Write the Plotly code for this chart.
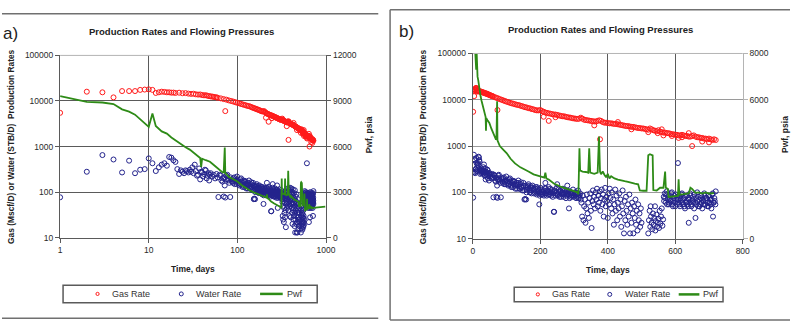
import plotly.graph_objects as go

# ---------------- data ----------------
gas_days = [1, 2, 3, 4, 5, 6, 7, 8, 9, 10, 11, 12, 13, 14, 15, 16, 17, 18, 19, 20,
            22, 24, 26, 28, 30, 32, 34, 36, 38, 40, 42, 44, 46, 48, 50, 52, 54, 56, 58, 60,
            65, 70, 73, 75, 80, 85, 90, 95, 100, 105, 110, 115, 120, 125, 130, 135, 140, 145, 150, 155,
            160, 165, 170, 175, 180, 185, 190, 195, 200, 205, 210, 215, 220, 225, 225, 230, 235, 240, 245, 245,
            250, 255, 260, 265, 270, 275, 280, 285, 290, 295, 300, 305, 310, 315, 320, 325, 330, 335, 340, 345,
            350, 355, 360, 360, 365, 370, 375, 377, 380, 385, 390, 395, 400, 405, 410, 415, 420, 425, 430, 435,
            440, 445, 450, 455, 460, 465, 470, 475, 480, 485, 490, 495, 500, 505, 510, 515, 520, 520, 525, 530,
            535, 540, 545, 548, 550, 555, 560, 565, 565, 570, 575, 580, 585, 590, 595, 600, 605, 610, 615, 620,
            625, 630, 635, 640, 645, 650, 650, 655, 660, 665, 670, 675, 680, 685, 690, 695, 700, 705, 710, 715,
            720, 430, 470, 560, 590, 610, 640, 680, 700, 210, 620]
gas_rates = [5500, 16000, 15500, 12000, 16500, 16500, 16500, 17500, 17800, 18000, 17500, 15000, 15500, 16000, 15800, 15500, 15500, 15200, 15300, 15000,
             15200, 14800, 14900, 14500, 14300, 14400, 14000, 13800, 13900, 13500, 13300, 13400, 13000, 12800, 12600, 12500, 12300, 12100, 12000, 11800,
             11400, 11000, 6000, 10700, 10300, 10000, 9700, 9400, 9100, 8900, 8600, 8400, 8200, 8000, 7800, 7700, 7500, 7300, 7100, 6900,
             6800, 6600, 6500, 6300, 6200, 6000, 5900, 5900, 6000, 5700, 5500, 5300, 5200, 3500, 5100, 5000, 4900, 4800, 4200, 4800,
             4700, 4600, 4500, 4400, 4400, 4300, 4200, 4150, 4100, 4000, 3950, 3900, 3850, 3900, 4100, 3900, 3700, 3650, 3600, 3550,
             3500, 3450, 2800, 3400, 3400, 3500, 3600, 1400, 3500, 3300, 3200, 3200, 3150, 3100, 3100, 3050, 3000, 3000, 2950, 2900,
             2850, 2800, 2750, 2700, 2700, 2650, 2600, 2600, 2550, 2500, 2450, 2450, 2400, 2400, 2350, 2300, 2250, 2000, 2400, 2300,
             2200, 2150, 2100, 1900, 2200, 2050, 2000, 1700, 1950, 1950, 1900, 1900, 1850, 1800, 1800, 1750, 1750, 1700, 1700, 1750,
             1700, 1650, 1650, 1600, 1600, 1000, 1650, 1700, 1600, 1550, 1550, 1500, 1500, 1450, 1450, 1400, 1450, 1400, 1350, 1400,
             1350, 3300, 2300, 2300, 1650, 1500, 1900, 1250, 1200, 4300, 1550]

water_days = [1, 2, 3, 4, 5, 6, 7, 8, 9, 10, 11, 12, 13, 14, 15, 16, 17, 18, 19, 20,
              21, 22, 23, 24, 25, 26, 27, 28, 29, 30, 31, 32, 33, 34, 35, 36, 37, 38, 39, 40,
              41, 42, 43, 44, 45, 46, 47, 48, 49, 50, 52, 54, 56, 58, 60, 61, 63, 66, 69, 70,
              72, 73, 75, 78, 81, 83, 84, 87, 90, 93, 96, 99, 102, 105, 108, 111, 114, 117, 120, 123,
              126, 129, 132, 135, 138, 141, 144, 147, 150, 153, 155, 156, 158, 159, 162, 165, 168, 171, 174, 177,
              180, 183, 186, 189, 192, 195, 197, 198, 201, 204, 207, 210, 213, 215, 216, 219, 222, 225, 228, 231,
              234, 237, 240, 241, 243, 246, 249, 250, 252, 255, 258, 261, 264, 267, 270, 273, 276, 279, 280, 282,
              285, 285, 288, 291, 294, 297, 300, 303, 306, 309, 312, 315, 318, 320, 322, 324, 326, 328, 330, 332,
              334, 336, 338, 340, 342, 344, 346, 348, 350, 352, 354, 356, 358, 360, 362, 364, 366, 368, 370, 372,
              374, 376, 378, 380, 382, 384, 386, 388, 390, 392, 394, 396, 398, 400, 402, 404, 406, 408, 410, 412,
              414, 416, 418, 420, 422, 424, 426, 428, 430, 432, 434, 436, 438, 440, 442, 444, 446, 448, 450, 452,
              454, 456, 458, 460, 462, 464, 466, 468, 470, 472, 474, 476, 478, 480, 482, 484, 486, 488, 490, 492,
              494, 496, 498, 500, 520, 522, 524, 526, 527, 528, 530, 532, 534, 536, 538, 540, 541, 542, 544, 546,
              548, 550, 552, 554, 556, 558, 560, 562, 564, 566, 569, 572, 575, 578, 581, 584, 587, 590, 593, 596,
              599, 602, 605, 608, 608, 611, 614, 617, 620, 623, 626, 629, 632, 635, 638, 640, 641, 644, 647, 650,
              653, 656, 659, 660, 662, 665, 668, 671, 674, 677, 680, 683, 686, 689, 692, 695, 698, 701, 704, 707,
              710, 712, 713, 716, 719, 720,
              65, 68, 71, 74, 77, 80, 86, 89, 92, 95, 98, 101, 104, 107, 110, 113, 116, 119, 122, 125,
              128, 131, 134, 137, 140, 143, 146, 149, 152, 157, 160, 163, 166, 169, 172, 175, 178, 181, 184, 187,
              190, 193, 196, 199, 202, 205, 208, 211, 214, 217, 220, 223, 226, 229, 232, 235, 238, 242, 245, 248,
              251, 254, 257, 260, 263, 266, 269, 272, 275, 278, 281, 284, 287, 290, 293, 296, 299, 302, 305, 308,
              311, 314, 317,
              567, 570, 573, 576, 579, 582, 585, 588, 591, 594, 597, 600, 603, 606, 609, 612, 615, 618, 621, 624,
              627, 630, 633, 636, 639, 642, 645, 648, 651, 654, 657, 663, 666, 669, 672, 675, 678, 681, 684, 687,
              690, 693, 696, 699, 702, 705, 708, 711, 714, 717]
water_rates = [77, 280, 650, 520, 270, 490, 260, 310, 320, 550, 430, 290, 350, 400, 430, 380, 590, 570, 500, 460,
               320, 250, 300, 280, 260, 300, 290, 270, 310, 280, 350, 260, 400, 290, 230, 240, 330, 190, 280, 270,
               220, 250, 310, 300, 200, 230, 260, 180, 240, 260, 220, 240, 200, 250, 210, 78, 240, 180, 200, 80,
               140, 76, 230, 190, 160, 78, 210, 170, 200, 150, 180, 220, 160, 140, 190, 170, 130, 180, 150, 170,
               120, 160, 140, 180, 120, 150, 130, 110, 160, 70, 72, 140, 70, 100, 130, 150, 110, 125, 95, 140,
               115, 100, 130, 90, 120, 105, 55, 85, 125, 100, 90, 110, 95, 160, 120, 85, 105, 130, 90, 100,
               115, 80, 38, 38, 105, 95, 125, 150, 85, 100, 110, 80, 95, 120, 90, 100, 75, 110, 140, 95,
               45, 85, 105, 80, 95, 115, 85, 100, 75, 90, 110, 80, 95, 70, 60, 30, 85, 25, 50, 70,
               22, 45, 90, 35, 60, 28, 75, 95, 40, 17, 65, 110, 55, 80, 45, 100, 70, 120, 50, 85,
               60, 105, 40, 75, 115, 55, 90, 30, 70, 125, 50, 80, 65, 28, 95, 55, 120, 75, 45, 100,
               35, 70, 20, 55, 115, 40, 85, 25, 60, 45, 95, 30, 70, 18, 50, 110, 35, 13, 65, 25,
               80, 40, 20, 55, 30, 90, 13, 45, 22, 60, 35, 13, 50, 28, 70, 20, 40, 15, 55, 25,
               35, 18, 45, 22, 13, 25, 40, 18, 50, 30, 22, 16, 35, 20, 28, 50, 15, 24, 33, 18,
               22, 27, 17, 40, 21, 30, 45, 19, 26, 80, 95, 60, 105, 70, 55, 85, 65, 100, 50, 75,
               60, 90, 55, 430, 70, 85, 50, 65, 95, 55, 75, 45, 60, 85, 50, 22, 70, 95, 55, 65,
               80, 45, 60, 28, 75, 100, 50, 70, 55, 85, 45, 65, 95, 55, 75, 50, 85, 60, 70, 45,
               90, 30, 60, 75, 55, 105,
               230, 170, 210, 190, 240, 180, 190, 160, 210, 170, 150, 190, 170, 150, 200, 140, 160, 130, 175, 140,
               150, 120, 160, 135, 120, 165, 125, 140, 110, 130, 115, 140, 120, 100, 135, 110, 125, 95, 120, 105,
               130, 95, 115, 100, 90, 115, 100, 85, 125, 95, 110, 90, 100, 120, 85, 105, 95, 110, 85, 100,
               90, 115, 80, 105, 90, 100, 80, 110, 95, 85, 100, 90, 75, 100, 85, 95, 80, 90, 100, 80,
               95, 75, 85,
               65, 75, 90, 55, 80, 60, 70, 95, 55, 65, 85, 50, 70, 80, 60, 55, 75, 90, 60, 70,
               50, 80, 65, 55, 75, 60, 85, 50, 70, 60, 90, 55, 65, 80, 50, 75, 60, 70, 55, 85,
               65, 75, 60, 50, 80, 55, 70, 95, 60, 65]

pwf_days = [1, 2, 3, 4, 5, 6, 7, 8, 9, 10, 11, 12, 14, 16, 18, 20, 23, 26, 29, 32,
            35, 38, 39, 40, 44, 49, 55, 60, 64, 68, 70, 72, 73, 76, 80, 90, 100, 112, 125, 141,
            150, 165, 180, 195, 205, 212, 215, 218, 225, 240, 260, 280, 300, 310, 313, 316, 318, 325, 335, 342,
            345, 348, 360, 370, 374, 377, 380, 385, 390, 395, 400, 405, 410, 415, 420, 430, 440, 450, 460, 470,
            480, 490, 495, 505, 515, 520, 525, 533, 535, 545, 555, 565, 570, 572, 578, 580, 590, 600, 608, 610,
            612, 625, 640, 645, 650, 660, 670, 680, 690, 700, 710, 715]
pwf_psia = [9320, 8940, 8900, 8800, 8450, 8300, 8100, 7800, 7500, 7300, 8170, 7350, 7000, 6850, 6600, 6400, 6150, 5950, 5800, 5600,
            5450, 5250, 4660, 5200, 5100, 5000, 4750, 4550, 4400, 4300, 4300, 5940, 4250, 4150, 4000, 3850, 3700, 3450, 3250, 3080,
            3000, 2900, 2780, 2700, 2650, 2640, 2850, 2600, 2550, 2380, 2250, 2150, 2080, 2000, 1920, 3900, 2950, 2900, 2880, 2850,
            3900, 2850, 2800, 2850, 4410, 2900, 2780, 2900, 2760, 2650, 2800, 2600, 2700, 2650, 2600, 2550, 2500, 2480, 2450, 2400,
            2380, 2350, 2080, 2070, 2070, 3600, 3650, 3600, 2100, 2080, 2200, 2200, 2900, 2200, 2150, 1800, 1820, 1850, 1850, 2560,
            1900, 1920, 1950, 2200, 2150, 1980, 2000, 1950, 2000, 1950, 1980, 1970]
pwf_tail_days = [980]      # flat end segment visible only in panel a
pwf_tail_psia = [2040]

assert len(gas_days) == len(gas_rates)
assert len(water_days) == len(water_rates)
assert len(pwf_days) == len(pwf_psia)

rate_ticks = [10, 100, 1000, 10000, 100000]
rate_tick_text = ["10", "100", "1000", "10000", "100000"]
time_ticks_a = [1, 10, 100, 1000]
time_ticks_b = [0, 200, 400, 600, 800]
pwf_ticks_a = [0, 3000, 6000, 9000, 12000]
pwf_ticks_b = [0, 2000, 4000, 6000, 8000]

series_names = ["Gas Rate", "Water Rate", "Pwf"]
title_text = "Production Rates and Flowing Pressures"
left_title = "Gas (Mscf/D) or Water (STB/D)  Production Rates"
right_title = "Pwf, psia"
x_title = "Time, days"

# ---------------- styles ----------------
FONT = "Liberation Sans, Arial, sans-serif"
RED = "#ff1a1a"
NAVY = "#23238c"
GREEN = "#2e8b17"
DARK = "#5a5a5a"
LIGHT = "#b4b4b4"
W, H = 800, 328


def px(x):
    return x / W


def py(y):
    return 1 - y / H


fig = go.Figure()

for xa, ya, ya2, tail in (("x", "y", "y2", True), ("x2", "y3", "y4", False)):
    fig.add_trace(go.Scatter(x=gas_days, y=gas_rates, mode="markers", name=series_names[0],
                             xaxis=xa, yaxis=ya, showlegend=False,
                             marker=dict(symbol="circle-open", size=5, color=RED, line=dict(width=1))))
    fig.add_trace(go.Scatter(x=water_days, y=water_rates, mode="markers", name=series_names[1],
                             xaxis=xa, yaxis=ya, showlegend=False,
                             marker=dict(symbol="circle-open", size=5, color=NAVY, line=dict(width=1))))
    pd_ = pwf_days + (pwf_tail_days if tail else [])
    pp_ = pwf_psia + (pwf_tail_psia if tail else [])
    fig.add_trace(go.Scatter(x=pd_, y=pp_, mode="lines", name=series_names[2],
                             xaxis=xa, yaxis=ya2, showlegend=False,
                             line=dict(color=GREEN, width=1.8)))

tickfont = dict(family=FONT, size=8.5, color="#2a2a2a")
common_ax = dict(showline=True, ticks="outside", ticklen=4, tickwidth=1.2, zeroline=False,
                 tickfont=tickfont, linewidth=1.3)

fig.update_layout(
    width=W, height=H, margin=dict(l=0, r=0, t=0, b=0),
    paper_bgcolor="white", plot_bgcolor="white",
    font=dict(family=FONT, size=9, color="#222"),
    showlegend=False,
    xaxis=dict(type="log", range=[0, 3], domain=[px(59), px(329)], anchor="y",
               tickvals=time_ticks_a, ticktext=[str(v) for v in time_ticks_a],
               showgrid=True, gridcolor=DARK, gridwidth=1.3, linecolor=DARK, tickcolor=DARK, **common_ax),
    yaxis=dict(type="log", range=[1, 5], domain=[py(240), py(52)], anchor="x",
               tickvals=rate_ticks, ticktext=rate_tick_text,
               showgrid=True, gridcolor=DARK, gridwidth=1.3, linecolor=DARK, tickcolor=DARK, **common_ax),
    yaxis2=dict(range=[0, 12000], overlaying="y", anchor="x", side="right",
                tickvals=pwf_ticks_a, ticktext=[str(v) for v in pwf_ticks_a],
                showgrid=False, linecolor=DARK, tickcolor=DARK, **common_ax),
    xaxis2=dict(range=[0, 800], domain=[px(478), px(752)], anchor="y3",
                tickvals=time_ticks_b, ticktext=[str(v) for v in time_ticks_b],
                showgrid=True, gridcolor=DARK, gridwidth=1.3, linecolor=DARK, tickcolor=DARK, **common_ax),
    yaxis3=dict(type="log", range=[1, 5], domain=[py(241), py(50)], anchor="x2",
                tickvals=rate_ticks, ticktext=rate_tick_text,
                showgrid=True, gridcolor="#9a9a9a", gridwidth=1.3, linecolor=DARK, tickcolor=DARK, **common_ax),
    yaxis4=dict(range=[0, 8000], overlaying="y3", anchor="x2", side="right",
                tickvals=pwf_ticks_b, ticktext=[str(v) for v in pwf_ticks_b],
                showgrid=False, linecolor=LIGHT, tickcolor=LIGHT, **common_ax),
)

shapes = [
    # panel frames
    dict(type="line", xref="paper", yref="paper", x0=0, x1=px(382), y0=py(9), y1=py(9),
         line=dict(color="#707070", width=1.5)),
    dict(type="line", xref="paper", yref="paper", x0=0, x1=px(382), y0=py(323), y1=py(323),
         line=dict(color="#707070", width=1.5)),
    dict(type="line", xref="paper", yref="paper", x0=px(394), x1=1, y0=py(5), y1=py(5),
         line=dict(color="#707070", width=1.5)),
    dict(type="line", xref="paper", yref="paper", x0=px(394), x1=1, y0=py(325), y1=py(325),
         line=dict(color="#707070", width=1.5)),
    dict(type="line", xref="paper", yref="paper", x0=px(394), x1=px(394), y0=py(5), y1=py(325),
         line=dict(color="#707070", width=1.5)),
    # light top borders of plot areas
    dict(type="line", xref="paper", yref="paper", x0=px(59), x1=px(329), y0=py(52), y1=py(52),
         line=dict(color=LIGHT, width=1)),
    dict(type="line", xref="paper", yref="paper", x0=px(478), x1=px(752), y0=py(50), y1=py(50),
         line=dict(color=LIGHT, width=1)),
]

# ---------------- legends (one per panel) ----------------
ann = []
legend_specs = [
    # box (x0, x1, y0, y1), gas marker x, water marker x, line x0/x1, text x's, centre y
    dict(box=(62, 320, 289, 307), gas=97, water=182, line=(262, 285), tx=(110, 195, 287), cy=298),
    dict(box=(520, 732, 291, 306), gas=544, water=617, line=(687, 708), tx=(556, 630, 710), cy=298.5),
]
legend_font = dict(family=FONT, size=9, color="#333")
for spec in legend_specs:
    x0, x1, y0, y1 = spec["box"]
    cy = spec["cy"]
    shapes.append(dict(type="rect", xref="paper", yref="paper", x0=px(x0), x1=px(x1), y0=py(y1), y1=py(y0),
                       line=dict(color=DARK, width=1.5), fillcolor="white"))
    for mx, col, r in ((spec["gas"], RED, 1.6), (spec["water"], NAVY, 2.0)):
        shapes.append(dict(type="circle", xref="paper", yref="paper", xsizemode="pixel", ysizemode="pixel",
                           xanchor=px(mx), yanchor=py(cy), x0=-r, x1=r, y0=-r, y1=r,
                           line=dict(color=col, width=1)))
    shapes.append(dict(type="line", xref="paper", yref="paper", x0=px(spec["line"][0]), x1=px(spec["line"][1]),
                       y0=py(cy), y1=py(cy), line=dict(color=GREEN, width=2.5)))
    for name, tx in zip(series_names, spec["tx"]):
        ann.append(dict(text=name, x=px(tx), y=py(cy), xref="paper", yref="paper", showarrow=False,
                        xanchor="left", yanchor="middle", font=legend_font))

fig.update_layout(shapes=shapes)

bold = dict(family=FONT, color="#222")
for cx, cy in ((182, 27), (608, 25)):
    ann.append(dict(text="<b>%s</b>" % title_text, x=px(cx), y=py(cy), xref="paper", yref="paper",
                    showarrow=False, xanchor="center", yanchor="middle", font=dict(size=9.5, **bold)))
for cx, cy in ((194, 272), (615, 273)):
    ann.append(dict(text="<b>%s</b>" % x_title, x=px(cx), y=py(cy), xref="paper", yref="paper",
                    showarrow=False, xanchor="center", yanchor="middle", font=dict(size=8.5, **bold)))
for cx, cy in ((8.5, 146), (427, 146)):
    ann.append(dict(text="<b>%s</b>" % left_title, x=px(cx), y=py(cy), xref="paper", yref="paper",
                    showarrow=False, xanchor="center", yanchor="middle", textangle=-90,
                    font=dict(size=8.4, **bold)))
for cx, cy in ((373, 134), (795, 134)):
    ann.append(dict(text="<b>%s</b>" % right_title, x=px(cx), y=py(cy), xref="paper", yref="paper",
                    showarrow=False, xanchor="center", yanchor="middle", textangle=-90,
                    font=dict(size=8.5, **bold)))
ann.append(dict(text="a)", x=px(-1), y=py(29), xref="paper", yref="paper", showarrow=False,
                xanchor="left", yanchor="middle", font=dict(family=FONT, size=17, color="#222")))
ann.append(dict(text="b)", x=px(401), y=py(27), xref="paper", yref="paper", showarrow=False,
                xanchor="left", yanchor="middle", font=dict(family=FONT, size=17, color="#222")))
fig.update_layout(annotations=ann)

fig.write_html("out.html")
